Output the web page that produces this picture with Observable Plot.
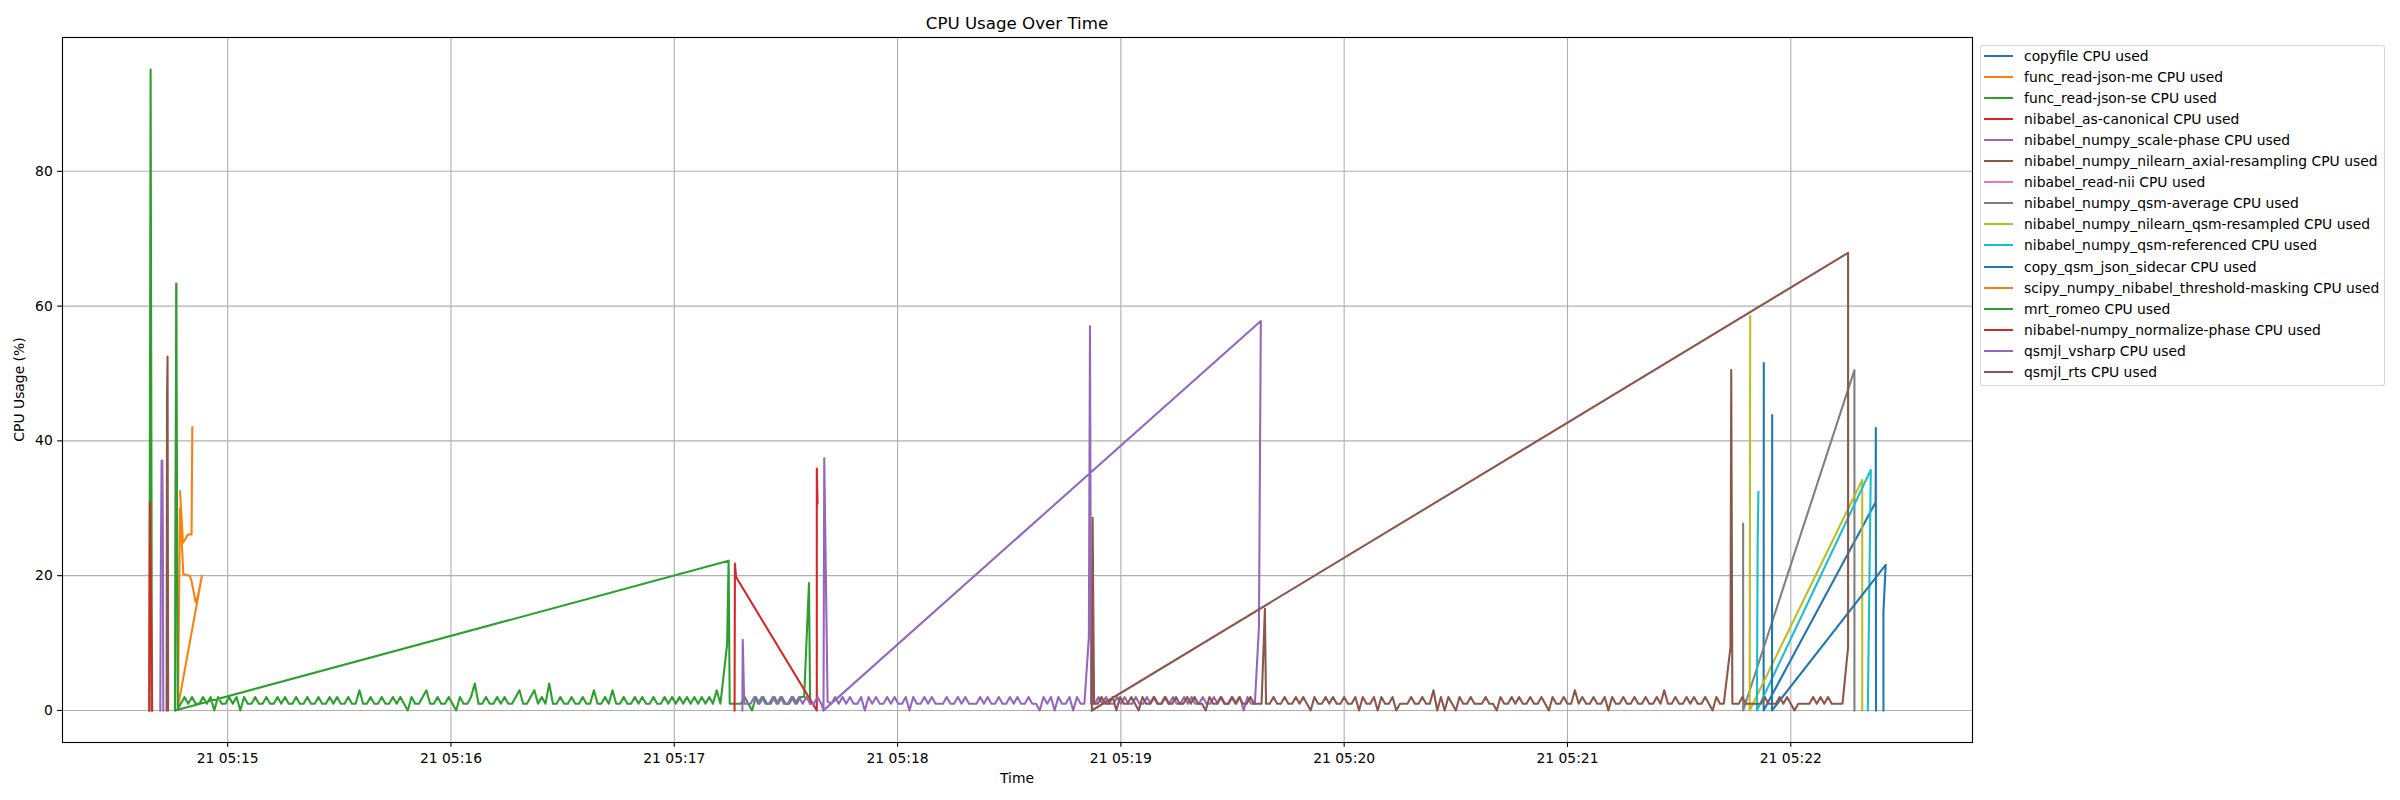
<!DOCTYPE html>
<html>
<head>
<meta charset="utf-8">
<script src="https://cdn.jsdelivr.net/npm/d3@7"></script>
<script src="https://cdn.jsdelivr.net/npm/@observablehq/plot@0.6"></script>
<style>
html, body { margin: 0; padding: 0; background: #ffffff; }
#wrap { position: relative; width: 2400px; height: 800px; font-family: "DejaVu Sans", sans-serif; color: #000; }
#legend { position: absolute; left: 1980px; top: 45px; width: 405px; height: 341px; box-sizing: border-box;
  border: 1px solid rgba(204,204,204,0.8); border-radius: 3px; background: rgba(255,255,255,0.8); }
.row { position: absolute; left: 0; height: 21px; display: flex; align-items: center; white-space: nowrap; font-size: 13.89px; }
.sw { width: 29px; height: 0; border-top: 2.08px solid; margin-left: 3px; margin-right: 11px; }
</style>
</head>
<body>
<div id="wrap"></div>
<script>
// ---------------- DATA ----------------
const dayStr = "2024-01-21";
const clockStart = "05:14:00";           // all "Sec" values are seconds after this clock time
const sampleStepSec = 1.0;               // sampling interval of the regularly logged stretches

const seriesNames = [
  "copyfile CPU used",
  "func_read-json-me CPU used",
  "func_read-json-se CPU used",
  "nibabel_as-canonical CPU used",
  "nibabel_numpy_scale-phase CPU used",
  "nibabel_numpy_nilearn_axial-resampling CPU used",
  "nibabel_read-nii CPU used",
  "nibabel_numpy_qsm-average CPU used",
  "nibabel_numpy_nilearn_qsm-resampled CPU used",
  "nibabel_numpy_qsm-referenced CPU used",
  "copy_qsm_json_sidecar CPU used",
  "scipy_numpy_nibabel_threshold-masking CPU used",
  "mrt_romeo CPU used",
  "nibabel-numpy_normalize-phase CPU used",
  "qsmjl_vsharp CPU used",
  "qsmjl_rts CPU used"
];
const seriesColors = ["#1f77b4","#ff7f0e","#2ca02c","#d62728","#9467bd","#8c564b","#e377c2","#7f7f7f",
                      "#bcbd22","#17becf","#1f77b4","#ff7f0e","#2ca02c","#d62728","#9467bd","#8c564b"];

const xTickLabels = ["05:15","05:16","05:17","05:18","05:19","05:20","05:21","05:22"];
const yTicks = [0, 20, 40, 60, 80];

// short series: time (s) and CPU (%) in drawing order
const copyfileSec = [472.75, 472.7, 502.8, 502.85, 502.9];
const copyfileCpu = [51.5, 0, 30.9, 41.9, 0];

const readJsonMeSec = [47.2, 48.0, 48.7, 49.3, 50.3, 50.5];
const readJsonMeCpu = [32.5, 24.9, 25.5, 26.1, 26.1, 42.0];

const readJsonSeSec = [38.95, 39.3, 39.5, 39.65];
const readJsonSeCpu = [0, 95.1, 41.3, 0];

const asCanonicalSec = [38.95, 39.1, 39.55, 39.7];
const asCanonicalCpu = [0, 30.9, 9.6, 0];

const scalePhaseSec = [41.9, 42.05, 42.25, 42.45, 42.6, 42.7];
const scalePhaseCpu = [0, 21.7, 37.1, 37.1, 25.3, 0];

const axialSec = [43.6, 43.7, 43.85, 44.0];
const axialCpu = [0, 46.2, 52.5, 0];

const readNiiSec = [45.85, 46.2];
const readNiiCpu = [0, 63.3];

const qsmAverageSec = [467.2, 467.2, 497.1, 497.1];
const qsmAverageCpu = [27.7, 0, 50.5, 0];

const qsmResampledSec = [469.1, 468.95, 499.2, 499.2];
const qsmResampledCpu = [58.5, 0, 34.2, 0];

const qsmReferencedSec = [471.3, 471.1, 470.9, 501.5, 500.7];
const qsmReferencedCpu = [32.4, 24.8, 0, 35.7, 0];

const sidecarSec = [475.0, 475.0, 474.95, 505.5, 504.9, 504.9];
const sidecarCpu = [43.8, 33.6, 0, 21.6, 14.7, 0];

const thresholdSec = [46.65, 47.2, 48.1, 49.8, 50.25, 51.4, 52.0, 53.1, 46.65];
const thresholdCpu = [0.5, 30.0, 20.2, 20.0, 19.3, 16.1, 17.0, 20.0, 0.5];

const normalizeSec = [196.2, 196.3, 196.6, 218.3, 218.3, 218.5];
const normalizeCpu = [0, 21.8, 19.8, 0, 35.9, 30.7];

// mrt_romeo
const romeoHeadSec = [194.6, 45.85, 46.2, 46.6];
const romeoHeadCpu = [22.2, 0, 63.3, 0.3];
const romeoBodyStartSec = 47.4;
const romeoBodyCpu = [
  1,2,1,2,1,1,2,1,2,0, 2,1,1,2,1,2,0,2,1,1, 2,1,1,2,1,1,2,1,2,1, 1,2,1,1,2,1,1,2,1,1,
  2,1,2,1,1,2,1,1,3,1, 1,2,1,1,2,1,1,2,1,2, 1,0,2,1,1,2,3,1,1,2, 1,1,2,1,0,2,1,1,2,4,
  1,1,2,1,1,2,1,2,1,1, 2,3,1,1,2,3,1,2,1,4, 1,1,2,1,1,2,1,1,2,1, 1,3,1,1,2,1,3,1,1,2,
  1,1,2,1,2,1,1,2,1,1, 2,1,2,1,2,1,2,1,2,1, 2,1,2,1,3,1];
const romeoRiseSec = [194.2, 194.6];
const romeoRiseCpu = [9.8, 22.2];
const romeoTailStartSec = 194.9;
const romeoTailCpu = [1,1,1,1,2,1,0,2,1,2,1,1,2,1,2,1,1,2,1,2,2];
const romeoEndSec = [216.2, 216.5];
const romeoEndCpu = [18.9, 1];

// qsmjl_vsharp
const vsharpHeadSec = [198.3, 198.4, 198.8];
const vsharpHeadCpu = [0, 10.5, 1];
const vsharpPreStartSec = 199.5;
const vsharpPreCpu = [1,1,2,1,2,1,1,2,1,2,1,1,2,1,2,1,2,1,1,2,1];
const vsharpSpikeSec = [220.1, 220.3, 221.2];
const vsharpSpikeCpu = [0, 37.4, 1.3];
const vsharpMidStartSec = 222.2;
const vsharpMidCpu = [
  1,2,1,2,1,2,1,1,2,0, 2,1,2,1,1,2,1,2,1,1, 2,0,2,1,1,2,1,2,1,1, 1,2,1,1,2,1,2,1,1,1,
  2,1,2,1,1,2,1,1,2,1, 2,1,1,2,1,1,0,2,1,2, 0,2,1,1,2,0,2,1,1];
const vsharpPeakSec = [291.4, 291.7, 292.0];
const vsharpPeakCpu = [10.9, 57.0, 1];
const vsharpLateStartSec = 293.0;
const vsharpLateCpu = [
  1,2,1,2,1,1,2,1,2,1, 1,2,1,1,2,1,2,1,1,2, 1,2,1,1,2,1,2,1,1,2, 1,1,2,1,2,1,1,2,1,2, 0,2,1,1];
const vsharpEndSec = [337.1, 337.6, 220.1];
const vsharpEndCpu = [12.4, 57.8, 0];

// qsmjl_rts
const rtsHeadSec = [292.2, 292.4, 292.8];
const rtsHeadCpu = [0, 28.6, 1];
const rtsAStartSec = 293.8;
const rtsACpu = [
  1,2,1,1,2,0,2,1,1,2, 1,0,2,1,1,2,1,1,2,1, 1,2,1,1,2,1,2,1,1,0, 2,1,1,2,1,1,2,1,2,1, 1,2,1,1,1];
const rtsBumpSec = [338.7, 339.0];
const rtsBumpCpu = [15.1, 1];
const rtsBStartSec = 340.0;
const rtsBCpu = [
  1,2,1,1,2,1,1,2,1,2, 1,0,2,1,1,2,1,2,1,1, 2,1,1,2,0,2,1,1,2,0, 2,1,1,2,0,1,1,1,2,1,
  1,2,1,1,3,0,2,0,2,1, 0,2,1,1,2,1,1,1,2,1, 1,0,2,1,1,2,1,2,1,1, 2,1,1,2,1,0,2,1,1,2,
  1,1,3,1,2,1,1,2,1,1, 2,0,2,1,1,2,1,1,2,1, 1,2,1,1,2,1,3,1,1,2, 1,1,2,1,2,1,1,2,1,0,
  2,1,1];
const rtsSpikeSec = [463.8, 464.0, 464.3];
const rtsSpikeCpu = [9.4, 50.5, 1];
const rtsCStartSec = 465.0;
const rtsCCpu = [1,1,2,1,1,1,1,1,2,1, 1,1,2,1,2,1,0,1,1,1, 1,2,1,2,1,2,1,1,1];
const rtsEndSec = [493.9, 495.4, 495.4, 292.2];
const rtsEndCpu = [1, 9.4, 67.9, 0];

// ---------------- BUILD ----------------
const t0 = new Date(`${dayStr}T${clockStart}Z`).getTime();
const toDate = s => new Date(t0 + s * 1000);
const pts = (sec, cpu) => sec.map((s, i) => ({t: toDate(s), v: cpu[i]}));
const sampled = (start, cpu) => cpu.map((v, i) => ({t: toDate(start + i * sampleStepSec), v}));

const seriesPoints = [
  pts(copyfileSec, copyfileCpu),
  pts(readJsonMeSec, readJsonMeCpu),
  pts(readJsonSeSec, readJsonSeCpu),
  pts(asCanonicalSec, asCanonicalCpu),
  pts(scalePhaseSec, scalePhaseCpu),
  pts(axialSec, axialCpu),
  pts(readNiiSec, readNiiCpu),
  pts(qsmAverageSec, qsmAverageCpu),
  pts(qsmResampledSec, qsmResampledCpu),
  pts(qsmReferencedSec, qsmReferencedCpu),
  pts(sidecarSec, sidecarCpu),
  pts(thresholdSec, thresholdCpu),
  [...pts(romeoHeadSec, romeoHeadCpu), ...sampled(romeoBodyStartSec, romeoBodyCpu),
   ...pts(romeoRiseSec, romeoRiseCpu), ...sampled(romeoTailStartSec, romeoTailCpu),
   ...pts(romeoEndSec, romeoEndCpu)],
  pts(normalizeSec, normalizeCpu),
  [...pts(vsharpHeadSec, vsharpHeadCpu), ...sampled(vsharpPreStartSec, vsharpPreCpu),
   ...pts(vsharpSpikeSec, vsharpSpikeCpu), ...sampled(vsharpMidStartSec, vsharpMidCpu),
   ...pts(vsharpPeakSec, vsharpPeakCpu), ...sampled(vsharpLateStartSec, vsharpLateCpu),
   ...pts(vsharpEndSec, vsharpEndCpu)],
  [...pts(rtsHeadSec, rtsHeadCpu), ...sampled(rtsAStartSec, rtsACpu), ...pts(rtsBumpSec, rtsBumpCpu),
   ...sampled(rtsBStartSec, rtsBCpu), ...pts(rtsSpikeSec, rtsSpikeCpu),
   ...sampled(rtsCStartSec, rtsCCpu), ...pts(rtsEndSec, rtsEndCpu)]
];

// matplotlib-like 5% margins
const allPts = seriesPoints.flat();
const [tMin, tMax] = d3.extent(allPts, d => d.t.getTime());
const tPad = (tMax - tMin) * 0.05;
const xDomain = [new Date(tMin - tPad), new Date(tMax + tPad)];
const [vMin, vMax] = d3.extent(allPts, d => d.v);
const vPad = (vMax - vMin) * 0.05;
const yDomain = [vMin - vPad, vMax + vPad];

const xTicks = xTickLabels.map(s => new Date(`${dayStr}T${s}:00Z`));

const lineMarks = seriesPoints.map((p, i) =>
  Plot.line(p, {x: "t", y: "v", stroke: seriesColors[i], strokeWidth: 2.08,
                strokeLinejoin: "round", strokeLinecap: "square"}));

const chart = Plot.plot({
  width: 2400,
  height: 800,
  marginLeft: 62,
  marginRight: 428,
  marginTop: 37,
  marginBottom: 58,
  style: {fontFamily: "'DejaVu Sans', sans-serif", fontSize: "13.89px", color: "black", background: "white", overflow: "visible"},
  x: {type: "utc", domain: xDomain},
  y: {domain: yDomain},
  marks: [
    Plot.gridX(xTicks, {stroke: "#b0b0b0", strokeOpacity: 1, strokeWidth: 1.1}),
    Plot.gridY(yTicks, {stroke: "#b0b0b0", strokeOpacity: 1, strokeWidth: 1.1}),
    ...lineMarks,
    Plot.frame({stroke: "black", strokeWidth: 1.1}),
    Plot.axisX(xTicks, {tickFormat: d3.utcFormat("%d %H:%M"), tickSize: 4.86, tickPadding: 6, strokeWidth: 1.1, label: null}),
    Plot.axisY(yTicks, {tickSize: 4.86, tickPadding: 4.86, strokeWidth: 1.1, label: null})
  ]
});

const wrap = document.getElementById("wrap");
wrap.appendChild(chart);

const svg = d3.select(chart);
svg.append("text").attr("x", 1017).attr("y", 28.7).attr("text-anchor", "middle")
  .attr("font-size", "16.67px").attr("fill", "black").text("CPU Usage Over Time");
svg.append("text").attr("x", 1017).attr("y", 782.6).attr("text-anchor", "middle")
  .attr("fill", "black").text("Time");
svg.append("text").attr("transform", "translate(24.4,389.5) rotate(-90)").attr("text-anchor", "middle")
  .attr("fill", "black").text("CPU Usage (%)");

// legend (outside the plot, upper right)
const legend = d3.select(wrap).append("div").attr("id", "legend");
seriesNames.forEach((name, i) => {
  const row = legend.append("div").attr("class", "row").style("top", (-0.5 + 21.05 * i) + "px");
  row.append("div").attr("class", "sw").style("border-top-color", seriesColors[i]);
  row.append("span").text(name);
});
</script>
</body>
</html>
